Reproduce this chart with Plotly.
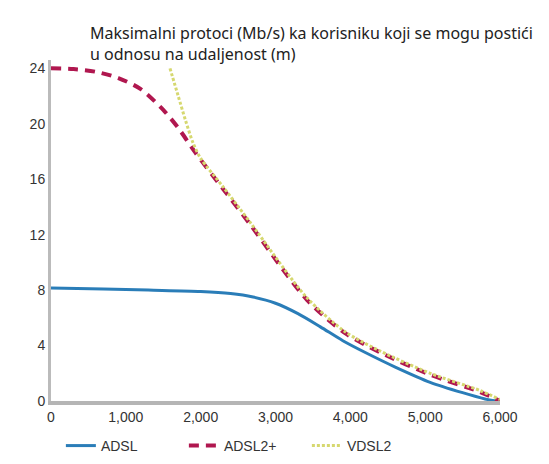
import plotly.graph_objects as go

dist_adsl = [0, 700, 1300, 2000, 2400, 2700, 3000, 3300, 3600, 3900, 4200, 4600, 5067, 5500, 5800, 5950]
adsl = [8.15, 8.08, 8.0, 7.9, 7.75, 7.5, 7.05, 6.3, 5.35, 4.35, 3.5, 2.45, 1.35, 0.6, 0.15, 0.0]

dist_adsl2 = [0, 300, 600, 900, 1200, 1500, 1700, 1925, 2300, 2660, 3420, 3930, 4400, 5067, 5735, 6000]
adsl2 = [24.0, 23.95, 23.75, 23.3, 22.5, 21.0, 19.7, 17.95, 15.3, 12.75, 7.3, 4.9, 3.5, 1.9, 0.65, 0.0]

dist_vdsl2 = [1590, 1700, 1800, 1900, 2000, 2300, 2660, 3420, 3930, 4400, 5067, 5735, 6000]
vdsl2 = [24.0, 22.0, 20.2, 18.6, 17.5, 15.45, 12.9, 7.45, 5.0, 3.6, 2.0, 0.75, 0.1]

x_ticks = [0, 1000, 2000, 3000, 4000, 5000, 6000]
x_tick_labels = ["0", "1,000", "2,000", "3,000", "4,000", "5,000", "6,000"]
y_ticks = [0, 4, 8, 12, 16, 20, 24]

fig = go.Figure()
fig.add_trace(go.Scatter(x=dist_adsl, y=adsl, name="ADSL", mode="lines",
                         line=dict(color="#2a7db8", width=3, shape="spline", smoothing=0.8)))
fig.add_trace(go.Scatter(x=dist_adsl2, y=adsl2, name="ADSL2+", mode="lines",
                         line=dict(color="#b0174f", width=4, dash="10px,7px", shape="spline", smoothing=0.8)))
fig.add_trace(go.Scatter(x=dist_vdsl2, y=vdsl2, name="VDSL2", mode="lines",
                         line=dict(color="#d6d870", width=3, dash="3px,2px", shape="spline", smoothing=0.8)))

fig.update_layout(
    width=549, height=464,
    margin=dict(l=51, r=49, t=60, b=63, autoexpand=False),
    paper_bgcolor="white", plot_bgcolor="white",
    font=dict(family="Liberation Sans, Arial", size=14, color="#333333"),
    showlegend=True,
    legend=dict(orientation="h", x=0.022, y=-0.085, xanchor="left", yanchor="top",
                entrywidth=78, entrywidthmode="pixels", bgcolor="rgba(0,0,0,0)",
                font=dict(size=14, color="#333333")),
    xaxis=dict(range=[0, 6000], tickvals=x_ticks, ticktext=x_tick_labels,
               showgrid=False, zeroline=False, showline=True, linecolor="#b5b5b5",
               linewidth=4, ticks=""),
    yaxis=dict(range=[0, 24.6], tickvals=y_ticks, showgrid=False, zeroline=False,
               showline=True, linecolor="#bbbbbb", linewidth=3, ticks=""),
    annotations=[dict(
        text="Maksimalni protoci (Mb/s) ka korisniku koji se mogu postići<br>u odnosu na udaljenost (m)",
        xref="paper", yref="paper", x=0.082, y=1.0, yshift=40, xanchor="left", yanchor="top",
        align="left", showarrow=False,
        font=dict(family="Noto Sans", size=16, color="#222222"))],
)

fig.write_html("out.html", config={"displayModeBar": False},
               post_script="document.body.style.margin='0px';")
